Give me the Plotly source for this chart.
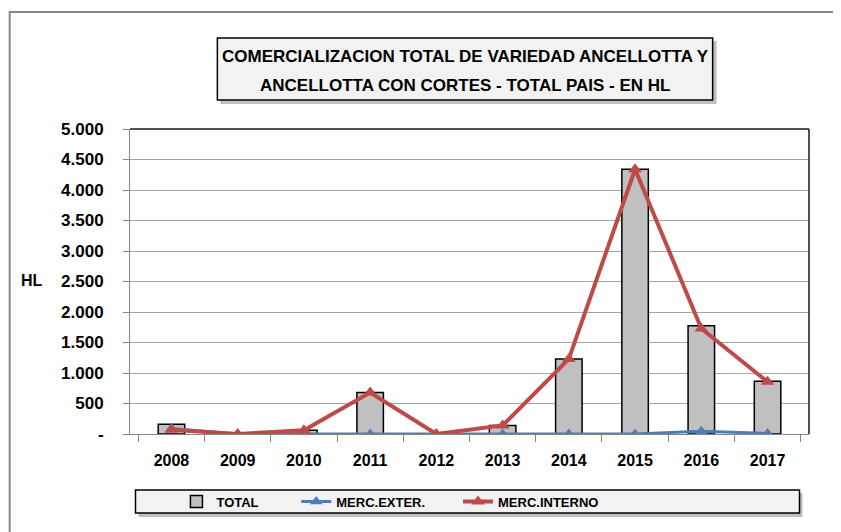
import plotly.graph_objects as go

years = ['2008', '2009', '2010', '2011', '2012', '2013', '2014', '2015', '2016', '2017']
total = [160, 0, 60, 680, 0, 140, 1230, 4340, 1775, 865]
merc_exter = [90, 0, 0, 0, 0, 0, 0, 0, 45, 10]
merc_interno = [70, 0, 60, 680, 0, 140, 1230, 4340, 1730, 855]

ytick_vals = [0, 500, 1000, 1500, 2000, 2500, 3000, 3500, 4000, 4500, 5000]
ytick_text = ['-', '500', '1.000', '1.500', '2.000', '2.500', '3.000', '3.500', '4.000', '4.500', '5.000']

FONT = "Liberation Sans, Arial, sans-serif"

# page body has an 8px margin; screen coords below, figure is offset by OFF
OFF = 8
L, R, T, B = 129.5, 809.5, 129, 434          # plot area in screen coords
W, H = 841 - OFF, 532 - OFF                   # figure size
pw, ph = R - L, B - T
def px(x): return (x - L) / pw
def py(y): return (B - y) / ph

fig = go.Figure()
fig.add_trace(go.Bar(x=years, y=total, name='TOTAL', width=0.4, legend='legend',
                     marker=dict(color='#c0c0c0', line=dict(color='black', width=1.5))))
fig.add_trace(go.Scatter(x=years, y=merc_exter, name='MERC.EXTER.', mode='lines+markers', legend='legend2',
                         line=dict(color='#4a7ebb', width=3),
                         marker=dict(symbol='triangle-up', size=11, color='#4a7ebb')))
fig.add_trace(go.Scatter(x=years, y=merc_interno, name='MERC.INTERNO', mode='lines+markers', legend='legend3',
                         line=dict(color='#be4b48', width=4),
                         marker=dict(symbol='triangle-up', size=12, color='#be4b48')))

shapes = [
    # outer chart border (left edge as far left as the page allows)
    dict(type='rect', xref='paper', yref='paper', x0=px(9), x1=px(860), y0=py(12), y1=py(560),
         line=dict(color='#888888', width=2), fillcolor='rgba(0,0,0,0)', layer='below'),
    # title box + shadow
    dict(type='rect', xref='paper', yref='paper', x0=px(220), x1=px(717), y0=py(41), y1=py(104),
         line=dict(width=0), fillcolor='rgba(0,0,0,0.25)', layer='below'),
    dict(type='rect', xref='paper', yref='paper', x0=px(217), x1=px(713), y0=py(38), y1=py(100),
         line=dict(color='black', width=1.5), fillcolor='#f2f2f2', layer='below'),
    # legend box + shadow
    dict(type='rect', xref='paper', yref='paper', x0=px(138), x1=px(803), y0=py(493), y1=py(517),
         line=dict(width=0), fillcolor='rgba(0,0,0,0.25)', layer='below'),
    dict(type='rect', xref='paper', yref='paper', x0=px(135), x1=px(800), y0=py(490), y1=py(513),
         line=dict(color='black', width=1.5), fillcolor='#f2f2f2', layer='below'),
    # plot area border top and right
    dict(type='line', xref='paper', yref='paper', x0=0, x1=1, y0=1, y1=1,
         line=dict(color='#1a1a1a', width=1.5), layer='above'),
    dict(type='line', xref='paper', yref='paper', x0=1, x1=1, y0=0, y1=1,
         line=dict(color='#1a1a1a', width=1.5), layer='above'),
]

tfont = dict(family=FONT, size=17, color='black', weight='bold')
annotations = [
    dict(text='COMERCIALIZACION TOTAL DE VARIEDAD ANCELLOTTA Y', xref='paper', yref='paper',
         x=px(465), y=py(56), showarrow=False, font=tfont, xanchor='center', yanchor='middle'),
    dict(text='ANCELLOTTA CON CORTES - TOTAL PAIS - EN HL', xref='paper', yref='paper',
         x=px(465), y=py(85), showarrow=False, font=tfont, xanchor='center', yanchor='middle'),
    dict(text='HL', xref='paper', yref='paper', x=px(31), y=py(280), showarrow=False,
         font=dict(family=FONT, size=16, color='black', weight='bold'), xanchor='center', yanchor='middle'),
]

lfont = dict(family=FONT, size=13, color='black', weight='bold')
def leg(xs):
    return dict(orientation='h', x=px(xs), y=py(501.5), xanchor='left', yanchor='middle',
                bgcolor='rgba(0,0,0,0)', font=lfont, itemwidth=30)

fig.update_layout(
    width=W, height=H,
    margin=dict(l=L - OFF, r=W - (R - OFF), t=T - OFF, b=H - (B - OFF), autoexpand=False),
    paper_bgcolor='white', plot_bgcolor='white',
    font=dict(family=FONT, color='black'),
    showlegend=True,
    legend=leg(176), legend2=leg(296), legend3=leg(458),
    shapes=shapes, annotations=annotations,
    xaxis=dict(type='category', showgrid=False, showline=True, linecolor='#868686', linewidth=1,
               ticks='outside', tickson='boundaries', ticklen=7, tickcolor='#868686',
               tickfont=dict(family=FONT, size=16, color='black', weight='bold'), ticklabelstandoff=12),
    yaxis=dict(range=[0, 5000], tickvals=ytick_vals, ticktext=ytick_text,
               showgrid=True, gridcolor='#a6a6a6', gridwidth=1, zeroline=False,
               showline=True, linecolor='#868686', linewidth=1,
               ticks='outside', ticklen=6, tickcolor='#868686',
               tickfont=dict(family=FONT, size=17, color='black', weight='bold'), ticklabelstandoff=16),
)

fig.write_html('out.html')
